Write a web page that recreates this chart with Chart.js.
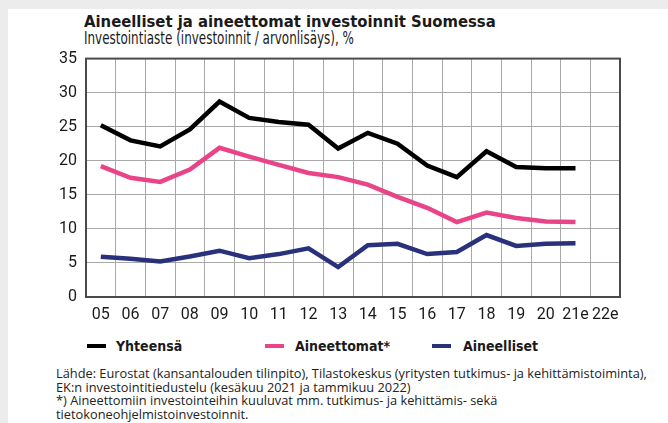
<!DOCTYPE html>
<html>
<head>
  <meta charset="UTF-8" />
  <title>Aineelliset ja aineettomat investoinnit Suomessa</title>
  <script src="https://cdn.jsdelivr.net/npm/chart.js"></script>
  <style>
    body {
      margin: 0;
      width: 668px;
      height: 423px;
      background: #ececec;
      overflow: hidden;
      font-family: "Liberation Sans Narrow", "DejaVu Sans Condensed", Roboto, sans-serif;
      color: #1a1a1a;
    }
    .panel {
      position: absolute;
      left: 8px;
      top: 9px;
      width: 660px;
      height: 414px;
      background: #fff;
    }
    .title {
      position: absolute;
      left: 84px;
      top: 12px;
      font-size: 16.5px;
      font-weight: bold;
      white-space: nowrap;
    }
    .subtitle {
      position: absolute;
      left: 84px;
      top: 28px;
      font-size: 17.5px;
      white-space: nowrap;
      transform: scaleX(0.76);
      transform-origin: 0 0;
    }
    .chart-box {
      position: absolute;
      left: 0;
      top: 40px;
      width: 668px;
      height: 285px;
    }
    .legend {
      position: absolute;
      top: 337px;
      left: 0;
      font-size: 14px;
      font-weight: bold;
    }
    .legend span {
      position: absolute;
      top: 1px;
      white-space: nowrap;
    }
    .legend i {
      position: absolute;
      top: 7px;
      width: 19px;
      height: 4px;
    }
    .source {
      position: absolute;
      left: 56px;
      top: 367px;
      font-family: "Open Sans", Roboto, sans-serif;
      font-size: 12.8px;
      line-height: 13.5px;
      color: #222;
      white-space: nowrap;
    }
  </style>
</head>
<body>
  <div class="panel"></div>
  <div class="title">Aineelliset ja aineettomat investoinnit Suomessa</div>
  <div class="subtitle">Investointiaste (investoinnit / arvonlisäys), %</div>
  <div class="chart-box"><canvas id="invChart" width="668" height="285"></canvas></div>
  <div class="legend" id="legend"></div>
  <div class="source">
    Lähde: Eurostat (kansantalouden tilinpito), Tilastokeskus (yritysten tutkimus- ja kehittämistoiminta),<br>
    EK:n investointitiedustelu (kesäkuu 2021 ja tammikuu 2022)<br>
    *) Aineettomiin investointeihin kuuluvat mm. tutkimus- ja kehittämis- sekä<br>
    tietokoneohjelmistoinvestoinnit.
  </div>

  <script>
    const years = ['05', '06', '07', '08', '09', '10', '11', '12', '13', '14', '15', '16', '17', '18', '19', '20', '21e', '22e'];
    const yhteensa = [25.2, 23.0, 22.1, 24.6, 28.7, 26.3, 25.7, 25.3, 21.8, 24.1, 22.5, 19.3, 17.6, 21.4, 19.1, 18.9, 18.9, null];
    const aineettomat = [19.2, 17.5, 16.9, 18.7, 21.9, 20.6, 19.4, 18.2, 17.6, 16.5, 14.7, 13.1, 11.0, 12.4, 11.6, 11.1, 11.0, null];
    const aineelliset = [5.9, 5.6, 5.2, 5.95, 6.8, 5.7, 6.3, 7.15, 4.4, 7.6, 7.8, 6.3, 6.6, 9.1, 7.5, 7.8, 7.9, null];
    const yTicks = [0, 5, 10, 15, 20, 25, 30, 35];

    const series = [
      { label: 'Yhteensä', data: yhteensa, color: '#000000', markX: 87, textX: 116 },
      { label: 'Aineettomat*', data: aineettomat, color: '#ea4489', markX: 265, textX: 295 },
      { label: 'Aineelliset', data: aineelliset, color: '#29317c', markX: 432, textX: 463 }
    ];

    // legend under the chart
    const legend = document.getElementById('legend');
    series.forEach(s => {
      const mark = document.createElement('i');
      mark.style.left = s.markX + 'px';
      mark.style.background = s.color;
      legend.appendChild(mark);
      const txt = document.createElement('span');
      txt.textContent = s.label;
      txt.style.left = s.textX + 'px';
      legend.appendChild(txt);
    });

    // dark frame round the plot area
    const frame = {
      id: 'frame',
      afterDatasetsDraw(chart) {
        const a = chart.chartArea;
        const ctx = chart.ctx;
        ctx.save();
        ctx.strokeStyle = '#4a4a4a';
        ctx.lineWidth = 2;
        ctx.strokeRect(a.left, a.top, a.right - a.left, a.bottom - a.top);
        ctx.restore();
      }
    };

    const tickFont = { family: 'Roboto, sans-serif', size: 16 };

    new Chart(document.getElementById('invChart'), {
      type: 'line',
      data: {
        labels: years,
        datasets: series.map(s => ({
          label: s.label,
          data: s.data,
          borderColor: s.color,
          backgroundColor: s.color,
          borderWidth: 4.5,
          pointRadius: 0,
          tension: 0,
          fill: false
        }))
      },
      options: {
        responsive: false,
        animation: false,
        layout: { padding: { left: 0, right: 48, top: 14, bottom: 0 } },
        plugins: {
          legend: { display: false },
          tooltip: { enabled: false }
        },
        scales: {
          x: {
            offset: true,
            grid: { offset: true, color: '#a8a8a8', lineWidth: 1, drawTicks: false },
            border: { display: false },
            ticks: { color: '#1a1a1a', font: tickFont, padding: 8, maxRotation: 0, autoSkip: false },
            afterFit(scale) { scale.height = 28; }
          },
          y: {
            min: 0,
            max: 35,
            afterBuildTicks(scale) { scale.ticks = yTicks.map(v => ({ value: v })); },
            grid: { color: '#a8a8a8', lineWidth: 1, drawTicks: false },
            border: { display: false },
            ticks: { color: '#1a1a1a', font: tickFont, padding: 9 },
            afterFit(scale) { scale.width = 86; }
          }
        }
      },
      plugins: [frame]
    });
  </script>
</body>
</html>
